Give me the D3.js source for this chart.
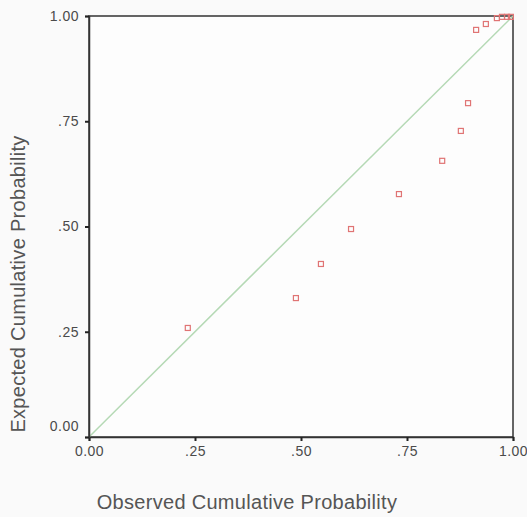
<!DOCTYPE html>
<html><head><meta charset="utf-8">
<script src="https://cdn.jsdelivr.net/npm/d3@7"></script>
<style>body{margin:0;background:#fafafa}</style>
</head><body>
<script>
const observed = [0.233,0.488,0.547,0.618,0.731,0.833,0.877,0.894,0.913,0.936,0.962,0.974,0.986,0.995];
const expected = [0.259,0.330,0.411,0.494,0.577,0.656,0.727,0.793,0.967,0.981,0.995,0.998,0.998,0.998];
const tickValues = [0,0.25,0.5,0.75,1];
const tickLabels = ["0.00",".25",".50",".75","1.00"];
const xTitle = "Observed Cumulative Probability";
const yTitle = "Expected Cumulative Probability";

const W=527,H=517;
const svg=d3.select("body").append("svg").attr("width",W).attr("height",H);
svg.append("rect").attr("width",W).attr("height",H).attr("fill","#fafafa");
const L=89,R=513,T=16,B=437;
const x=d3.scaleLinear().domain([0,1]).range([L,R]);
const y=d3.scaleLinear().domain([0,1]).range([B,T]);
const font="Liberation Sans, Arial, sans-serif";

svg.append("rect").attr("x",L).attr("y",T).attr("width",R-L).attr("height",B-T)
  .attr("fill","#fdfdfd").attr("stroke","#333").attr("stroke-width",1.5);

// reference diagonal
svg.append("line").attr("x1",x(0)).attr("y1",y(0)).attr("x2",x(1)).attr("y2",y(1))
  .attr("stroke","#b5d9b5").attr("stroke-width",1.5);

const xAxis=d3.axisBottom(x).tickValues(tickValues).tickFormat((d,i)=>tickLabels[i]).tickSize(4).tickPadding(5);
const yAxis=d3.axisLeft(y).tickValues(tickValues).tickFormat((d,i)=>tickLabels[i]).tickSize(4).tickPadding(6);
const gx=svg.append("g").attr("transform",`translate(0,${B})`).call(xAxis);
const gy=svg.append("g").attr("transform",`translate(${L},0)`).call(yAxis);
[gx,gy].forEach(g=>{
  g.select(".domain").attr("stroke","#333").attr("stroke-width",1.5);
  g.selectAll(".tick line").attr("stroke","#222").attr("stroke-width",2);
  g.selectAll(".tick text").attr("fill","#4a4a4a").attr("font-family",font).attr("font-size",14).attr("letter-spacing","0.5px");
});
gy.selectAll(".tick text").filter(d=>d===0).attr("dy","-0.5em");

svg.selectAll(".pt").data(observed.map((o,i)=>[o,expected[i]])).enter().append("rect")
  .attr("class","pt")
  .attr("x",d=>x(d[0])-2.5).attr("y",d=>y(d[1])-2.5).attr("width",5).attr("height",5)
  .attr("fill","none").attr("stroke","#e07474").attr("stroke-width",1.2);

svg.append("text").attr("x",247).attr("y",509).attr("text-anchor","middle")
  .attr("font-family",font).attr("font-size",20).attr("letter-spacing","0.3px").attr("fill","#555").text(xTitle);
svg.append("text").attr("transform",`translate(25,284) rotate(-90)`).attr("text-anchor","middle")
  .attr("font-family",font).attr("font-size",20).attr("letter-spacing","0.3px").attr("fill","#555").text(yTitle);
</script>
</body></html>
